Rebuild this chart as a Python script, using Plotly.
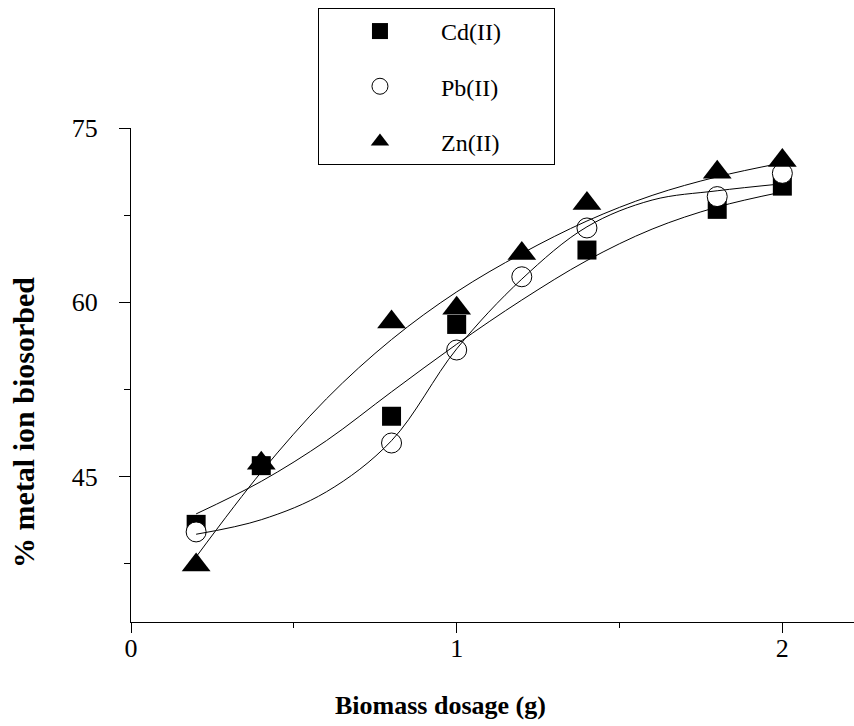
import plotly.graph_objects as go

# Measured removal (%) at each biomass dosage (g)
dose_cd = [0.2, 0.4, 0.8, 1.0, 1.4, 1.8, 2.0]
removal_cd = [40.9, 45.95, 50.2, 58.1, 64.5, 68.0, 70.0]

dose_pb = [0.2, 0.8, 1.0, 1.2, 1.4, 1.8, 2.0]
removal_pb = [40.25, 47.9, 55.9, 62.2, 66.4, 69.1, 71.1]

dose_zn = [0.2, 0.4, 0.8, 1.0, 1.2, 1.4, 1.8, 2.0]
removal_zn = [37.4, 46.15, 58.3, 59.5, 64.2, 68.5, 71.2, 72.2]

# Fitted trend curves sampled along the dosage axis
fit_dose = [0.2, 0.4, 0.6, 0.8, 1.0, 1.2, 1.4, 1.6, 1.8, 2.0]
fit_cd = [41.8, 44.6, 48.1, 52.3, 56.4, 60.2, 63.6, 66.3, 68.2, 69.5]
fit_pb = [40.05, 41.3, 43.7, 48.1, 56.0, 62.0, 66.5, 68.8, 69.6, 70.2]
fit_zn = [38.1, 45.4, 51.7, 56.8, 60.9, 64.2, 67.0, 69.2, 70.8, 72.0]

series_names = ["Cd(II)", "Pb(II)", "Zn(II)"]

SERIF = "Liberation Serif, Times New Roman, serif"
PAD = "\u00a0" * 8

fig = go.Figure()

# Data points: squares, open circles, triangles
fig.add_trace(go.Scatter(
    x=dose_cd, y=removal_cd, mode="markers", name=series_names[0] + PAD,
    legendgroup="cd",
    marker=dict(symbol="square", size=19, color="black", line=dict(width=0)),
))
fig.add_trace(go.Scatter(
    x=dose_pb, y=removal_pb, mode="markers", name=series_names[1] + PAD,
    legendgroup="pb",
    marker=dict(symbol="circle", size=20, color="white",
                line=dict(width=1, color="black")),
))
fig.add_trace(go.Scatter(
    x=dose_zn, y=removal_zn, mode="markers", name=series_names[2] + PAD,
    legendgroup="zn",
    marker=dict(symbol="triangle-up", size=25, color="black", line=dict(width=0)),
))

# Smooth fitted curves drawn over the symbols
for fit in (fit_cd, fit_pb, fit_zn):
    fig.add_trace(go.Scatter(
        x=fit_dose, y=fit, mode="lines", showlegend=False,
        line=dict(color="black", width=1, shape="spline", smoothing=1),
        hoverinfo="skip",
    ))

axis_common = dict(
    showline=True, linecolor="black", linewidth=1,
    ticks="outside", tickcolor="black", tickwidth=1,
    showgrid=False, zeroline=False,
    tickfont=dict(family=SERIF, size=26, color="black"),
)

fig.update_xaxes(
    range=[0, 2.22], tick0=0, dtick=1, ticklen=10, ticklabelstandoff=-7,
    minor=dict(tick0=0, dtick=0.5, ticks="outside", ticklen=5,
               tickcolor="black", tickwidth=1, showgrid=False),
    **axis_common,
)
fig.update_yaxes(
    range=[32.5, 75], tick0=0, dtick=15, ticklen=11, ticklabelstandoff=16,
    minor=dict(tick0=0, dtick=7.5, ticks="outside", ticklen=6,
               tickcolor="black", tickwidth=1, showgrid=False),
    **axis_common,
)

fig.update_layout(
    width=854, height=726,
    margin=dict(l=131, r=0, t=128, b=104, autoexpand=False),
    paper_bgcolor="white", plot_bgcolor="white",
    showlegend=True,
    legend=dict(
        x=0.2586, y=1.243, xanchor="left", yanchor="top",
        bgcolor="white", bordercolor="black", borderwidth=1,
        font=dict(family=SERIF, size=24, color="black"),
        itemwidth=112, tracegroupgap=21,
    ),
    annotations=[
        dict(text="<b>Biomass dosage (g)</b>", xref="paper", yref="paper",
             x=0.4274, y=-0.170, xanchor="center", yanchor="middle",
             showarrow=False, font=dict(family=SERIF, size=26, color="black")),
        dict(text="<b>% metal ion biosorbed</b>", xref="paper", yref="paper",
             x=-0.148, y=0.405, xanchor="center", yanchor="middle",
             textangle=-90, showarrow=False,
             font=dict(family=SERIF, size=30, color="black")),
    ],
)

fig.write_html("out.html")
